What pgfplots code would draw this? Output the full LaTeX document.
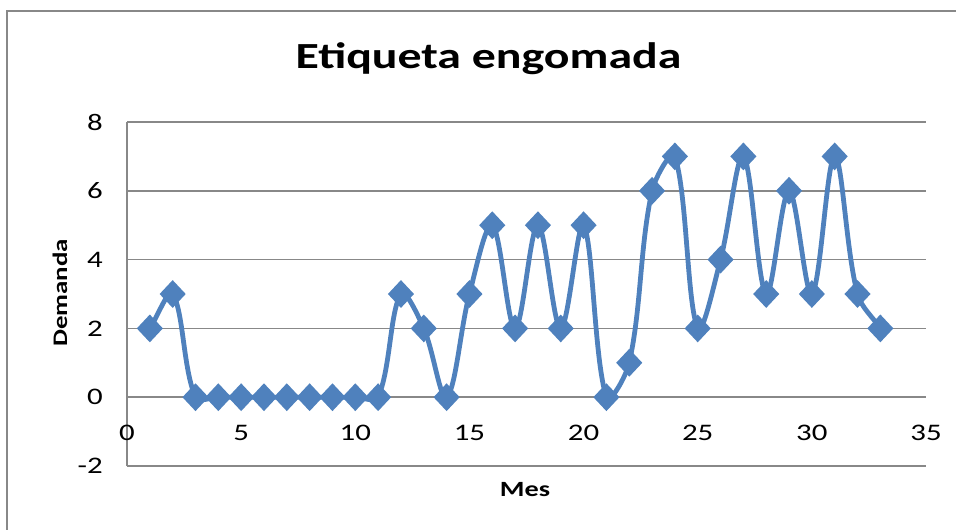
\documentclass[border=0pt]{standalone}
\usepackage{pgfplots}
\pgfplotsset{compat=1.18}
\usepackage{fontspec}
\setmainfont{Carlito}[FakeStretch=1.3]
\definecolor{ser}{HTML}{4F81BD}
\definecolor{gridc}{HTML}{888888}
\makeatletter
% Excel-like smoothing: Catmull-Rom tangents weighted by segment lengths
\newcount\xl@n
\newcount\xl@i
\def\xl@t{0.3333}
\def\pgfplothandlerexcel{%
  \def\pgf@plotstreamstart{%
    \global\xl@n=0\relax
    \global\let\pgf@plotstreampoint=\xl@point
    \global\let\pgf@plotstreamspecial=\pgfutil@gobble
    \global\let\pgf@plotstreamend=\xl@draw
  }%
}
\def\xl@point#1{%
  \pgf@process{#1}%
  \global\advance\xl@n by 1\relax
  \expandafter\xdef\csname xl@x\the\xl@n\endcsname{\pgf@sys@tonumber\pgf@x}%
  \expandafter\xdef\csname xl@y\the\xl@n\endcsname{\pgf@sys@tonumber\pgf@y}%
}
\def\xl@draw{%
  \ifnum\xl@n>0
    \pgfpathmoveto{\pgfqpoint{\csname xl@x1\endcsname pt}{\csname xl@y1\endcsname pt}}%
    \xl@i=1\relax
    \xl@iterate
  \fi
}
\def\xl@iterate{%
  \ifnum\xl@i<\xl@n
    \xl@segment
    \advance\xl@i by 1\relax
    \expandafter\xl@iterate
  \fi
}
\def\xl@segment{%
  \edef\xl@b{\the\xl@i}%
  \edef\xl@a{\ifnum\xl@i=1 1\else\the\numexpr\xl@i-1\relax\fi}%
  \edef\xl@c{\the\numexpr\xl@i+1\relax}%
  \edef\xl@d{\ifnum\xl@c=\xl@n \xl@c\else\the\numexpr\xl@i+2\relax\fi}%
  \edef\xlxa{\csname xl@x\xl@a\endcsname}\edef\xlya{\csname xl@y\xl@a\endcsname}%
  \edef\xlxb{\csname xl@x\xl@b\endcsname}\edef\xlyb{\csname xl@y\xl@b\endcsname}%
  \edef\xlxc{\csname xl@x\xl@c\endcsname}\edef\xlyc{\csname xl@y\xl@c\endcsname}%
  \edef\xlxd{\csname xl@x\xl@d\endcsname}\edef\xlyd{\csname xl@y\xl@d\endcsname}%
  \pgfmathveclen{(\xlxb)-(\xlxa)}{(\xlyb)-(\xlya)}\let\xldA\pgfmathresult
  \pgfmathveclen{(\xlxc)-(\xlxb)}{(\xlyc)-(\xlyb)}\let\xldB\pgfmathresult
  \pgfmathveclen{(\xlxd)-(\xlxc)}{(\xlyd)-(\xlyc)}\let\xldC\pgfmathresult
  \pgfmathsetmacro\xlwA{\xl@t*\xldB/(\xldA+\xldB)}%
  \pgfmathsetmacro\xlwB{\xl@t*\xldB/(\xldB+\xldC)}%
  \pgfmathsetmacro\xlcAx{(\xlxb)+\xlwA*((\xlxc)-(\xlxa))}%
  \pgfmathsetmacro\xlcAy{(\xlyb)+\xlwA*((\xlyc)-(\xlya))}%
  \pgfmathsetmacro\xlcBx{(\xlxc)-\xlwB*((\xlxd)-(\xlxb))}%
  \pgfmathsetmacro\xlcBy{(\xlyc)-\xlwB*((\xlyd)-(\xlyb))}%
  \pgfpathcurveto{\pgfqpoint{\xlcAx pt}{\xlcAy pt}}{\pgfqpoint{\xlcBx pt}{\xlcBy pt}}{\pgfqpoint{\xlxc pt}{\xlyc pt}}%
}
\tikzset{excel smooth/.code={\let\tikz@plot@handler=\pgfplothandlerexcel}}
\makeatother
\begin{document}
\begin{tikzpicture}[x=0.75pt,y=0.75pt]
\useasboundingbox (0,0) rectangle (956,-529);
\draw[gridc, line width=1.5pt] (7,-540) -- (7,-11) -- (970,-11);
\node[anchor=base, font=\fontsize{27.6}{30}\selectfont\bfseries, inner sep=0pt] at (488.5,-68) {Etiqueta engomada};
\node[anchor=base, font=\fontsize{16.3}{18}\selectfont\bfseries, inner sep=0pt] at (525,-496) {Mes};
\node[anchor=base, rotate=90, font=\fontsize{15.5}{18}\selectfont\bfseries, inner sep=0pt] at (67,-293) {Demanda};
\coordinate (O) at (127,-466);
\begin{axis}[
  at={(O)}, anchor=south west,
  scale only axis, width=599.25pt, height=258pt,
  xmin=0, xmax=35, ymin=-2, ymax=8,
  xtick={0,5,...,35}, ytick={-2,0,...,8},
  axis x line*=middle, axis y line*=left,
  hide obscured x ticks=false,
  axis line style={-, gridc, line width=1.1pt},
  every inner x axis line/.append style={-},
  every outer y axis line/.append style={-},
  ymajorgrids, grid style={gridc, line width=1.1pt},
  major tick length=0pt,
  /pgf/number format/assume math mode=true,
  tick label style={font=\fontsize{17.8}{20}\selectfont},
  xticklabel style={anchor=north, inner sep=0pt, yshift=-21pt},
  yticklabel style={anchor=east, inner sep=0pt, xshift=-18pt},
  clip=false,
]
\addplot[ser, line width=3.6pt, excel smooth,
  mark=diamond*, mark size=7.8pt, mark options={fill=ser, draw=none, xscale=1.25}]
  coordinates {
  (1,2) (2,3) (3,0) (4,0) (5,0) (6,0) (7,0) (8,0) (9,0) (10,0) (11,0)
  (12,3) (13,2) (14,0) (15,3) (16,5) (17,2) (18,5) (19,2) (20,5) (21,0)
  (22,1) (23,6) (24,7) (25,2) (26,4) (27,7) (28,3) (29,6) (30,3) (31,7)
  (32,3) (33,2)
  };
\end{axis}
\end{tikzpicture}
\end{document}
